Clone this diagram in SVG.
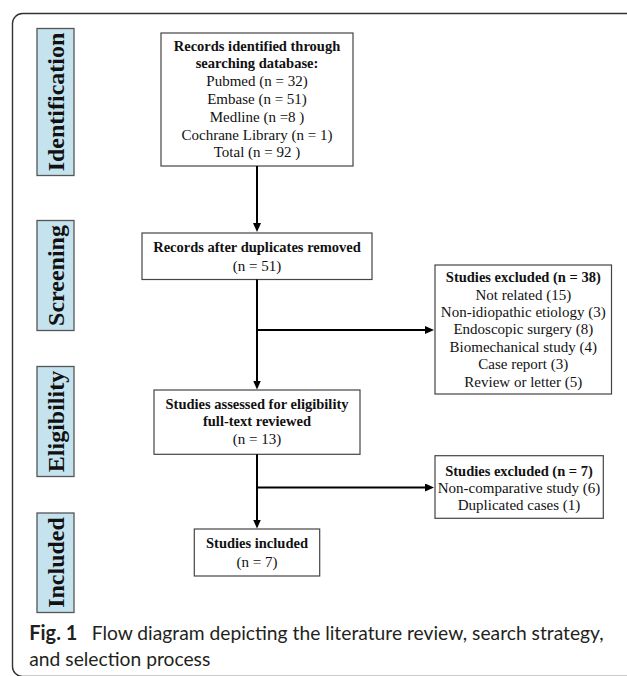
<svg xmlns="http://www.w3.org/2000/svg" width="627" height="676" viewBox="0 0 627 676">
<style>
  .frame{fill:none;stroke:#333;stroke-width:1.4}
  .stage rect{fill:#c5e3ef;stroke:#555;stroke-width:1.3}
  .stage text{font-family:"Liberation Serif","Times New Roman",serif;font-weight:bold;font-size:24px;fill:#111;text-anchor:middle}
  .box rect{fill:#fff;stroke:#444;stroke-width:1.2}
  .box text{font-family:"Liberation Serif","Times New Roman",serif;font-size:15px;fill:#111;text-anchor:middle}
  .box text.b{font-weight:bold;font-size:14.5px}
  .conn line{stroke:#000;stroke-width:2;fill:none}
  .cap{font-family:Lato,"Open Sans",sans-serif;font-size:20px;fill:#231f20}
</style>
<defs>
  <marker id="ah" markerUnits="userSpaceOnUse" markerWidth="10" markerHeight="9" refX="2" refY="4" orient="auto">
    <path d="M0,0 L9,4 L0,8 z" fill="#000"/>
  </marker>
</defs>
<rect class="frame" x="12.5" y="13.5" width="700" height="663" rx="10"/>

<g id="stage-identification" class="stage">
  <rect x="37" y="28.5" width="37" height="147"/>
  <text transform="translate(64,102) rotate(-90)">Identification</text>
</g>
<g id="stage-screening" class="stage">
  <rect x="37" y="220.5" width="37" height="110"/>
  <text transform="translate(64,275.5) rotate(-90)">Screening</text>
</g>
<g id="stage-eligibility" class="stage">
  <rect x="37" y="366.5" width="37" height="110"/>
  <text transform="translate(64,421.5) rotate(-90)">Eligibility</text>
</g>
<g id="stage-included" class="stage">
  <rect x="37" y="513" width="37" height="99.5"/>
  <text transform="translate(64,562.5) rotate(-90)">Included</text>
</g>

<g id="records-identified" class="box">
  <rect x="161" y="33" width="192" height="133"/>
  <text class="b" x="257" y="50.5">Records identified through</text>
  <text class="b" x="257" y="68.3">searching database:</text>
  <text x="257" y="86.1">Pubmed (n = 32)</text>
  <text x="257" y="103.9">Embase (n = 51)</text>
  <text x="257" y="121.7">Medline (n =8 )</text>
  <text x="257" y="139.5">Cochrane Library (n = 1)</text>
  <text x="257" y="157.3">Total (n = 92 )</text>
</g>

<g id="records-after-duplicates" class="box">
  <rect x="142" y="233" width="230" height="46.5"/>
  <text class="b" x="257" y="252">Records after duplicates removed</text>
  <text x="257" y="270.5">(n = 51)</text>
</g>

<g id="excluded-38" class="box">
  <rect x="435" y="265" width="176.5" height="129"/>
  <text class="b" x="523.3" y="282.3">Studies excluded (n = 38)</text>
  <text x="523.3" y="299.6">Not related (15)</text>
  <text x="523.3" y="317">Non-idiopathic etiology (3)</text>
  <text x="523.3" y="334.4">Endoscopic surgery (8)</text>
  <text x="523.3" y="351.8">Biomechanical study (4)</text>
  <text x="523.3" y="369.2">Case report (3)</text>
  <text x="523.3" y="386.6">Review or letter (5)</text>
</g>

<g id="assessed-eligibility" class="box">
  <rect x="154" y="390" width="206" height="64.3"/>
  <text class="b" x="257" y="409.3">Studies assessed for eligibility</text>
  <text class="b" x="257" y="426.3">full-text reviewed</text>
  <text x="257" y="443.5">(n = 13)</text>
</g>

<g id="excluded-7" class="box">
  <rect x="435" y="455.7" width="168.3" height="62.6"/>
  <text class="b" x="519" y="475.5">Studies excluded (n = 7)</text>
  <text x="519" y="492.5">Non-comparative study (6)</text>
  <text x="519" y="509.5">Duplicated cases (1)</text>
</g>

<g id="studies-included" class="box">
  <rect x="194.3" y="529" width="125.4" height="47"/>
  <text class="b" x="257" y="548.3">Studies included</text>
  <text x="257" y="567.2">(n = 7)</text>
</g>

<g id="connectors" class="conn">
  <line x1="257" y1="166" x2="257" y2="225" marker-end="url(#ah)"/>
  <line x1="257" y1="279.5" x2="257" y2="382.5" marker-end="url(#ah)"/>
  <line x1="256" y1="330" x2="427" y2="330" marker-end="url(#ah)"/>
  <line x1="257" y1="454.3" x2="257" y2="521.5" marker-end="url(#ah)"/>
  <line x1="256" y1="487.5" x2="427" y2="487.5" marker-end="url(#ah)"/>
</g>

<g id="caption">
  <text class="cap" x="29.3" y="640" font-weight="bold" textLength="48" lengthAdjust="spacingAndGlyphs">Fig. 1</text>
  <text class="cap" x="91.7" y="640" textLength="512" lengthAdjust="spacingAndGlyphs">Flow diagram depicting the literature review, search strategy,</text>
  <text class="cap" x="29.3" y="666" textLength="181" lengthAdjust="spacingAndGlyphs">and selection process</text>
</g>
</svg>
